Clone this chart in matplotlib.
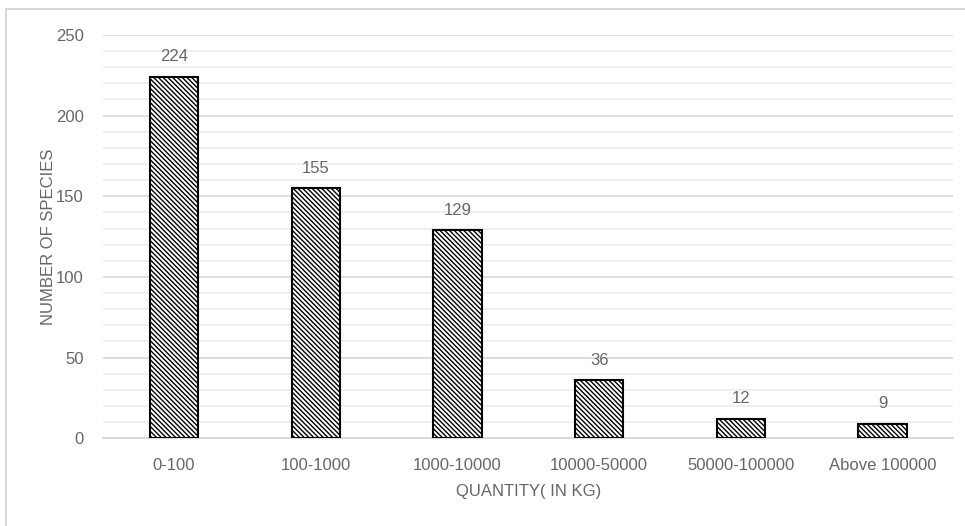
import matplotlib.pyplot as plt
import matplotlib.patches as mpatches
from matplotlib.ticker import MultipleLocator

# data
categories = ["0-100", "100-1000", "1000-10000", "10000-50000", "50000-100000", "Above 100000"]
species = [224, 155, 129, 36, 12, 9]

plt.rcParams['font.family'] = ['Liberation Sans', 'DejaVu Sans']
plt.rcParams['hatch.linewidth'] = 1.0
text_color = '#666666'

fig = plt.figure(figsize=(9.65, 5.26), dpi=100)
ax = fig.add_axes([0.107, 0.167, 0.881, 0.7665])

# light border around the chart area
fig.patches.append(mpatches.Rectangle((6 / 965, -0.05), 1.1, 1 - 9 / 526 + 0.05,
                                      transform=fig.transFigure, fill=False,
                                      edgecolor='#d9d9d9', linewidth=1.5))

x = range(len(categories))
bars = ax.bar(x, species, width=0.34, color='white', edgecolor='black',
              hatch='\\' * 7, linewidth=1.5, zorder=3)

for rect, val in zip(bars, species):
    ax.annotate(str(val), (rect.get_x() + rect.get_width() / 2, rect.get_height()),
                xytext=(0, 9), textcoords='offset points', ha='center', va='bottom',
                fontsize=12, color=text_color)

ax.set_xlim(-0.5, len(categories) - 0.5)
ax.set_ylim(0, 250)
ax.yaxis.set_major_locator(MultipleLocator(50))
ax.yaxis.set_minor_locator(MultipleLocator(10))
ax.grid(which='major', axis='y', color='#d9d9d9', linewidth=1.2, zorder=0)
ax.grid(which='minor', axis='y', color='#ececec', linewidth=1.2, zorder=0)

for side in ['top', 'right', 'left']:
    ax.spines[side].set_visible(False)
ax.spines['bottom'].set_color('#d9d9d9')
ax.spines['bottom'].set_linewidth(1.5)

ax.set_xticks(list(x))
ax.set_xticklabels(categories)
ax.tick_params(axis='both', which='both', length=0, labelsize=12, labelcolor=text_color)
ax.tick_params(axis='x', pad=14)
ax.tick_params(axis='y', pad=14)

ax.set_xlabel("QUANTITY( IN KG)", fontsize=12, color=text_color, labelpad=8)
ax.set_ylabel("NUMBER OF SPECIES", fontsize=12, color=text_color, labelpad=0)

fig.savefig("out.png", dpi=100)
